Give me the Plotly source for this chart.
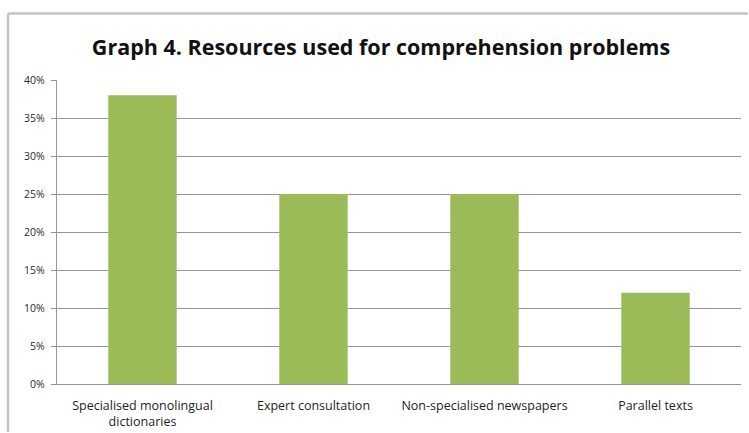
import plotly.graph_objects as go

categories = ["Specialised monolingual<br>dictionaries", "Expert consultation",
              "Non-specialised newspapers", "Parallel texts"]
values = [0.38, 0.25, 0.25, 0.12]
tick_vals = [0, 0.05, 0.10, 0.15, 0.20, 0.25, 0.30, 0.35, 0.40]
tick_text = ["0%", "5%", "10%", "15%", "20%", "25%", "30%", "35%", "40%"]

W, H = 749, 433
L, R, T, B = 57, 8, 80, 49
pw, ph = W - L - R, H - T - B

fig = go.Figure(go.Bar(x=categories, y=values, marker=dict(color="#9BBB59", line=dict(width=0)),
                       width=0.4))

fig.update_layout(
    width=W, height=H,
    margin=dict(l=L, r=R, t=T, b=B, pad=0),
    paper_bgcolor="white", plot_bgcolor="white",
    showlegend=False,
    title=dict(text="<b>Graph 4. Resources used for comprehension problems</b>",
               x=(381 - L) / pw, xref="paper", xanchor="center",
               y=1 - 47 / H, yref="container", yanchor="middle",
               font=dict(family="Open Sans", size=21.5, color="#111111")),
    font=dict(family="Open Sans", size=11, color="#333333"),
    bargap=0.6,
)
fig.update_yaxes(range=[0, 0.40], tickvals=tick_vals, ticktext=tick_text,
                 showgrid=True, gridcolor="#959595", gridwidth=1.2,
                 showline=True, linecolor="#959595", linewidth=1.2,
                 ticks="outside", ticklen=5, tickcolor="#959595",
                 ticklabelstandoff=4, automargin=False,
                 tickfont=dict(size=10.5, color="#2a2a2a"), zeroline=False)
fig.update_xaxes(showline=True, linecolor="#959595", linewidth=1.2, ticks="",
                 ticklabelstandoff=10, automargin=False,
                 tickfont=dict(size=12.5, color="#1e1e1e"), showgrid=False)

# outer chart frame (left and top edges visible)
fx0 = (8 - L) / pw
fy1 = 1 + (T - 13.5) / ph
fig.add_shape(type="line", xref="paper", yref="paper",
              x0=fx0, x1=fx0, y0=-(B - 1) / ph, y1=fy1,
              line=dict(color="#c4c4c4", width=2.5), layer="below")
fig.add_shape(type="line", xref="paper", yref="paper",
              x0=fx0, x1=1 + (R - 1) / pw, y0=fy1, y1=fy1,
              line=dict(color="#c4c4c4", width=2.5), layer="below")

fig.write_html("out.html")
